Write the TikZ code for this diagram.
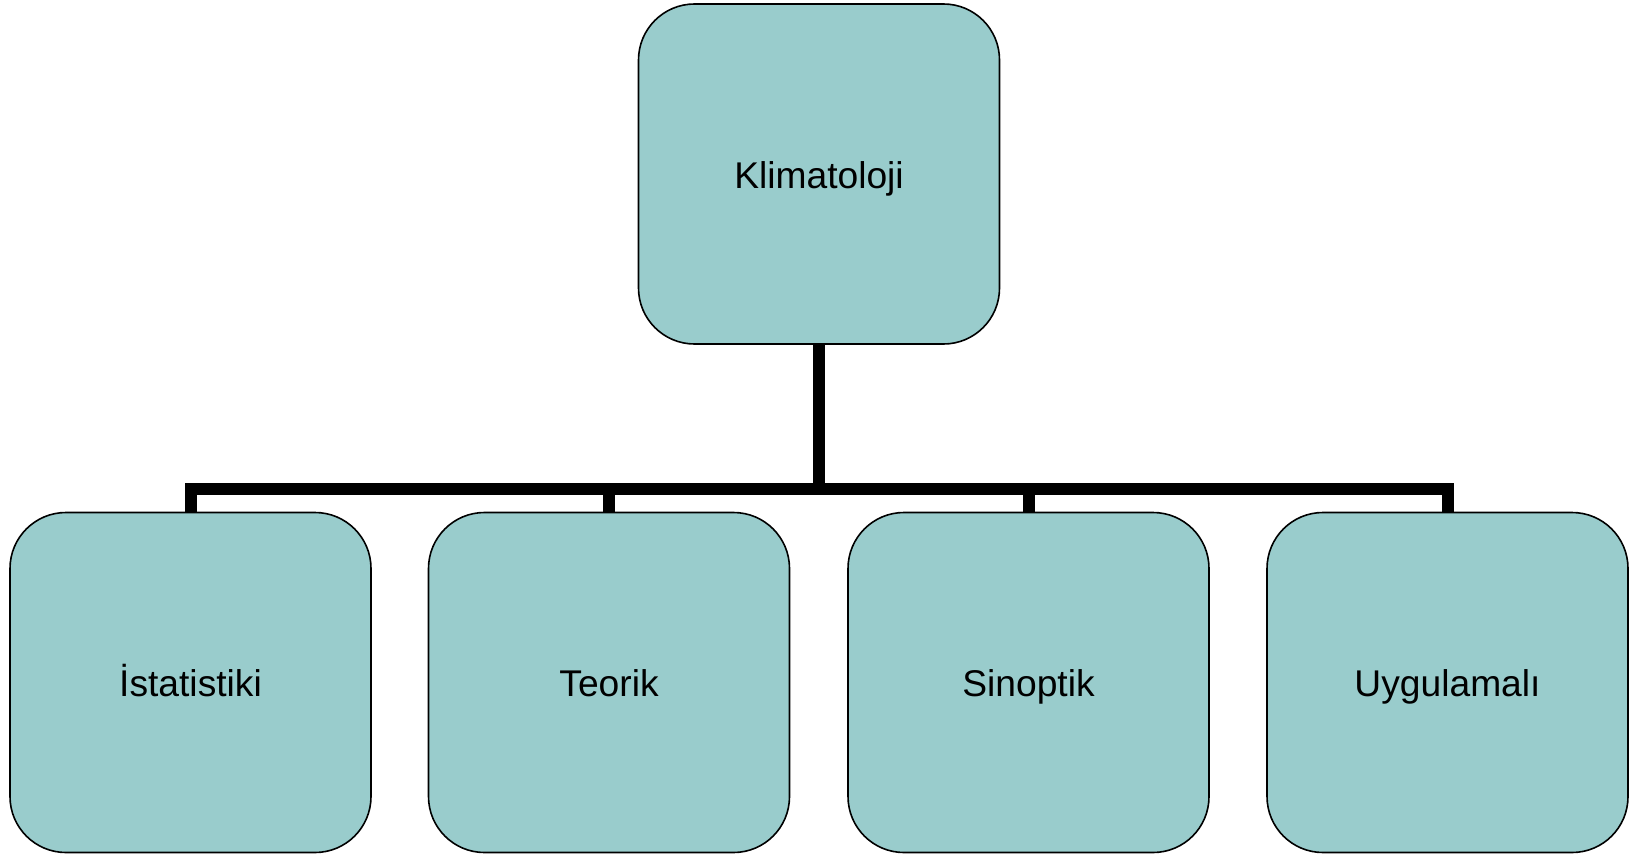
\documentclass[tikz,border=0pt]{standalone}
\usepackage{fontspec}
\setmainfont{Liberation Sans}
\usetikzlibrary{positioning}
\definecolor{boxfill}{RGB}{153,204,204}

\begin{document}
\begin{tikzpicture}[x=0.5pt,y=-0.5pt,
    klbox/.style={draw=black, line width=0.8pt, fill=boxfill, rounded corners=28pt,
        minimum width=180.5pt, minimum height=170pt, inner sep=0pt,
        text height=18pt, text depth=4pt, font=\fontsize{18.6}{22}\selectfont},
    link/.style={line width=6pt, line join=miter}]
\useasboundingbox (0,0) rectangle (1636,856);

% Root box
\node[klbox] (klima) at (819,174) {Klimatoloji};

% Child boxes
\node[klbox] (istat) at (190.5,682.5) {İstatistiki};
\node[klbox] (teori) at (609,682.5) {Teorik};
\node[klbox] (sinop) at (1028.5,682.5) {Sinoptik};
\node[klbox] (uygul) at (1447.5,682.5) {Uygulamalı};

% Elbow connectors through the bar
\coordinate (bar) at (819,489);
\foreach \n in {istat,teori,sinop,uygul}
    \draw[link] (klima.south) -- (bar) -| (\n.north);
\end{tikzpicture}
\end{document}
